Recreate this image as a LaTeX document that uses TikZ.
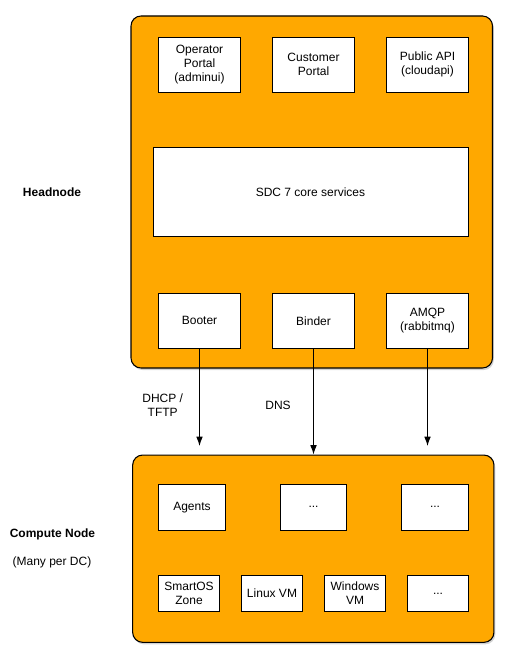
\documentclass[tikz,border=0pt]{standalone}
\usepackage{fontspec}
\setmainfont{Liberation Sans}
\usetikzlibrary{arrows.meta,shadows}
\definecolor{boxorange}{RGB}{255,168,0}
\begin{document}
\begin{tikzpicture}[x=0.75pt,y=-0.75pt,
  every node/.style={font=\fontsize{9}{10.5}\selectfont, align=center},
  outer/.style={draw=black, line width=0.8pt, fill=boxorange, rounded corners=7.5pt, inner sep=0pt,
    drop shadow={shadow xshift=1pt, shadow yshift=-1.5pt, opacity=0.35, fill=gray}},
  box/.style={draw=black, line width=0.75pt, fill=white, inner sep=0pt},
  lbl/.style={inner sep=0pt},
  conn/.style={line width=0.75pt, -{Latex[length=7pt,width=5pt]}}]
\useasboundingbox (0,0) rectangle (514,666);
% Headnode
\node[outer, minimum width={361.5*0.75pt}, minimum height={352*0.75pt}] (head) at (311.75,192) {};
\node[box, minimum width={82.4*0.75pt}, minimum height={55*0.75pt}] (op) at (199.5,64.8) {Operator\\Portal\\(adminui)};
\node[box, minimum width={82.4*0.75pt}, minimum height={55*0.75pt}] (cust) at (313.5,64.8) {Customer\\Portal};
\node[box, minimum width={82.4*0.75pt}, minimum height={55*0.75pt}] (pub) at (427.5,64.8) {Public API\\(cloudapi)};
\node[box, minimum width={315*0.75pt}, minimum height={89*0.75pt}] (core) at (310.5,192.5) {SDC 7 core services};
\node[box, minimum width={82.4*0.75pt}, minimum height={55*0.75pt}] (booter) at (199.5,320.8) {Booter};
\node[box, minimum width={82.4*0.75pt}, minimum height={55*0.75pt}] (binder) at (313.5,320.8) {Binder};
\node[box, minimum width={82.4*0.75pt}, minimum height={55*0.75pt}] (amqp) at (427.5,320.8) {AMQP\\(rabbitmq)};
% Compute node
\node[outer, minimum width={361.3*0.75pt}, minimum height={187.3*0.75pt}] (comp) at (313.3,548.7) {};
\node[box, minimum width={67.4*0.75pt}, minimum height={46*0.75pt}] (agents) at (192,507.3) {Agents};
\node[box, minimum width={66.4*0.75pt}, minimum height={46*0.75pt}] (d1) at (313.5,507.3) {...};
\node[box, minimum width={67.4*0.75pt}, minimum height={46*0.75pt}] (d2) at (435,507.3) {...};
\node[box, minimum width={61.4*0.75pt}, minimum height={36.4*0.75pt}] (smart) at (189,593.5) {SmartOS\\Zone};
\node[box, minimum width={61.4*0.75pt}, minimum height={36.4*0.75pt}] (linux) at (272,593.5) {Linux VM};
\node[box, minimum width={61.4*0.75pt}, minimum height={36.4*0.75pt}] (win) at (355,593.5) {Windows\\VM};
\node[box, minimum width={61.4*0.75pt}, minimum height={36.4*0.75pt}] (d3) at (438,593.5) {...};
% Labels
\node[lbl, font=\fontsize{9}{10.5}\selectfont\bfseries] (hl) at (52,192) {Headnode};
\node[lbl, font=\fontsize{9}{10.5}\selectfont\bfseries] (cl) at (52.5,534) {Compute Node};
\node[lbl] (ml) at (52,562.5) {(Many per DC)};
\node[lbl] (dhcp) at (162.7,405.5) {DHCP /\\TFTP};
\node[lbl] (dns) at (278,405.7) {DNS};
% Connectors
\coordinate (e1) at (199.5,446);
\coordinate (e3) at (427.5,446);
\draw[conn] (booter.south) -- (e1);
\draw[conn] (binder.south) -- (binder.south |- comp.north);
\draw[conn] (amqp.south) -- (e3);
\end{tikzpicture}
\end{document}
